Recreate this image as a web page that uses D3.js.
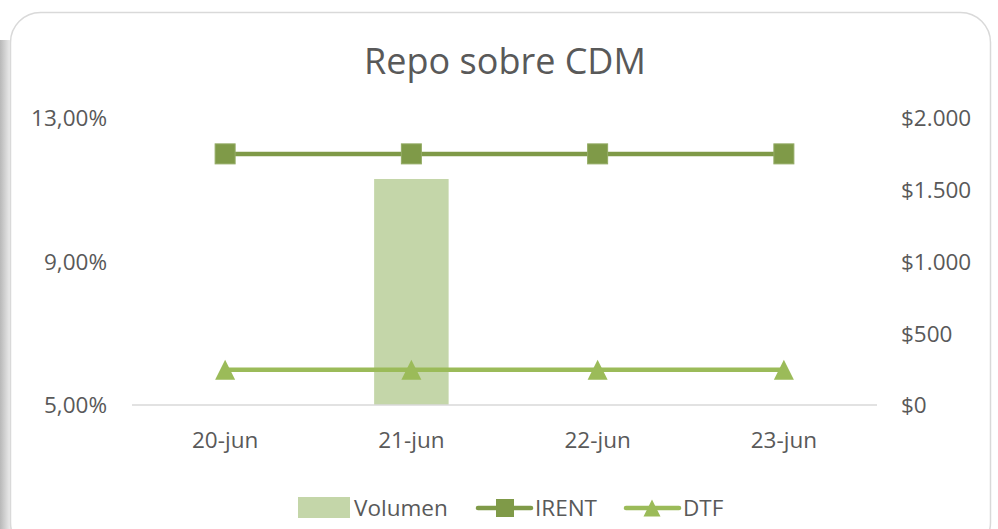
<!DOCTYPE html>
<html><head><meta charset="utf-8">
<script src="https://cdnjs.cloudflare.com/ajax/libs/d3/7.8.5/d3.min.js"></script>
<style>html,body{margin:0;padding:0;background:#fff;}svg{display:block;}</style>
</head><body>
<script>
const categories = ["20-jun","21-jun","22-jun","23-jun"];
const volumen = [0, 1575, 0, 0];
const irent = [12.0, 12.0, 12.0, 12.0];
const dtf = [5.98, 5.98, 5.98, 5.98];
const leftTicks = [5, 9, 13];
const rightTicks = [0, 500, 1000, 1500, 2000];
const title = "Repo sobre CDM";

const W = 998, H = 529;
const svg = d3.select("body").append("svg").attr("width", W).attr("height", H);
const defs = svg.append("defs");
const grad = defs.append("linearGradient").attr("id","sh").attr("x1","0").attr("x2","1");
grad.append("stop").attr("offset","0").attr("stop-color","#b8b8b8");
grad.append("stop").attr("offset","1").attr("stop-color","#ffffff");
svg.append("rect").attr("x",0).attr("y",40).attr("width",14).attr("height",H-40).attr("fill","url(#sh)");
svg.append("rect").attr("x",10.5).attr("y",12.5).attr("width",980).attr("height",540)
  .attr("rx",30).attr("fill","#fff").attr("stroke","#d9d9d9").attr("stroke-width",1.5);

const font = "'Open Sans', 'Noto Sans', sans-serif";
const fs = 22.5;
const x0 = 132, x1 = 877, yTop = 118, yBot = 405;
const x = d3.scaleBand().domain(categories).range([x0, x1]);
const yL = d3.scaleLinear().domain([5, 13]).range([yBot, yTop]);
const yR = d3.scaleLinear().domain([0, 2000]).range([yBot, yTop]);

svg.append("text").attr("x", 505).attr("y", 74).attr("text-anchor","middle")
  .attr("font-family", font).attr("font-size", 36).attr("fill","#595959").text(title);

// bars
svg.selectAll("rect.bar").data(volumen).join("rect").attr("class","bar")
  .attr("x",(d,i)=>x(categories[i]) + x.bandwidth()*0.3)
  .attr("width", x.bandwidth()*0.4)
  .attr("y", d=>yR(d)).attr("height", d=>yBot - yR(d))
  .attr("fill","#c4d6a9");

// baseline
svg.append("line").attr("x1",x0).attr("x2",x1).attr("y1",yBot).attr("y2",yBot)
  .attr("stroke","#d9d9d9").attr("stroke-width",1.5);

// left axis
const fmtPct = d => d3.format(".2f")(d).replace(".", ",") + "%";
const gL = svg.append("g").attr("transform",`translate(${x0-25},0)`)
  .call(d3.axisLeft(yL).tickValues(leftTicks).tickFormat(fmtPct).tickSize(0).tickPadding(0));
gL.select(".domain").remove();
gL.selectAll("text").attr("font-family",font).attr("font-size",fs).attr("fill","#595959").attr("dy","0.35em");

const fmtDol = d => "$" + d3.format(",")(d).replace(/,/g, ".");
const gR = svg.append("g").attr("transform",`translate(${x1+24},0)`)
  .call(d3.axisRight(yR).tickValues(rightTicks).tickFormat(fmtDol).tickSize(0).tickPadding(0));
gR.select(".domain").remove();
gR.selectAll("text").attr("font-family",font).attr("font-size",fs).attr("fill","#595959").attr("dy","0.35em");

const gX = svg.append("g").attr("transform",`translate(0,${yBot+35})`)
  .call(d3.axisBottom(x).tickSize(0).tickPadding(0));
gX.select(".domain").remove();
gX.selectAll("text").attr("font-family",font).attr("font-size",fs).attr("fill","#595959").attr("dy","0.35em");

const cx = c => x(c) + x.bandwidth()/2;
const line = d3.line().x((d,i)=>cx(categories[i]));
const cI = "#7f9a48", cD = "#9bbb59";
const triPath = (h) => `M0,${-h}L${h},${h}L${-h},${h}Z`;
svg.append("path").datum(irent).attr("d", line.y(d=>yL(d))).attr("fill","none").attr("stroke",cI).attr("stroke-width",4.5);
svg.selectAll("rect.sq").data(irent).join("rect").attr("class","sq")
  .attr("x",(d,i)=>cx(categories[i])-10).attr("y",d=>yL(d)-10).attr("width",20).attr("height",20)
  .attr("fill",cI).attr("stroke","#93ab63").attr("stroke-width",1);
svg.append("path").datum(dtf).attr("d", line.y(d=>yL(d))).attr("fill","none").attr("stroke",cD).attr("stroke-width",4.5);
svg.selectAll("path.tri").data(dtf).join("path").attr("class","tri")
  .attr("transform",(d,i)=>`translate(${cx(categories[i])},${yL(d)})`)
  .attr("d", triPath(10)).attr("fill",cD);

// legend
const ly = 508;
const lg = svg.append("g");
lg.append("rect").attr("x",298).attr("y",ly-11).attr("width",52).attr("height",21).attr("fill","#c4d6a9");
lg.append("text").attr("x",354).attr("y",ly).attr("dy","0.35em").attr("font-family",font).attr("font-size",fs).attr("fill","#595959").text("Volumen");
lg.append("line").attr("x1",478).attr("x2",531).attr("y1",ly).attr("y2",ly).attr("stroke",cI).attr("stroke-width",4.5).attr("stroke-linecap","round");
lg.append("rect").attr("x",496).attr("y",ly-9).attr("width",18).attr("height",18).attr("fill",cI);
lg.append("text").attr("x",535).attr("y",ly).attr("dy","0.35em").attr("font-family",font).attr("font-size",fs).attr("fill","#595959").text("IRENT");
lg.append("line").attr("x1",626).attr("x2",679).attr("y1",ly).attr("y2",ly).attr("stroke",cD).attr("stroke-width",4.5).attr("stroke-linecap","round");
lg.append("path").attr("transform",`translate(652,${ly})`).attr("d", triPath(8.5)).attr("fill",cD);
lg.append("text").attr("x",683).attr("y",ly).attr("dy","0.35em").attr("font-family",font).attr("font-size",fs).attr("fill","#595959").text("DTF");
</script>
</body></html>
